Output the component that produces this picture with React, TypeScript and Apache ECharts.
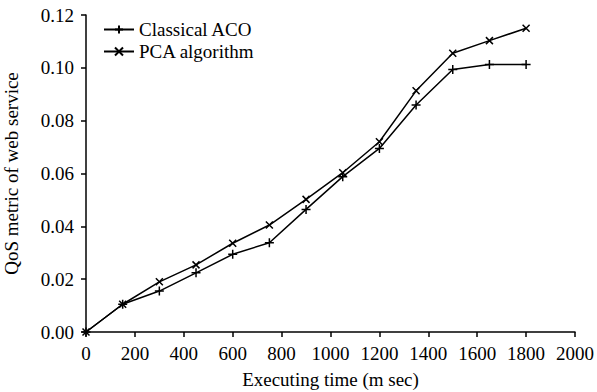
import React, { useEffect, useRef } from "react";
import * as echarts from "echarts";

const xValues = [0, 150, 300, 450, 600, 750, 900, 1050, 1200, 1350, 1500, 1650, 1800];
const classicalACO = [0, 0.0105, 0.0155, 0.0224, 0.0294, 0.0338, 0.0464, 0.0588, 0.0695, 0.0859, 0.0994, 0.1013, 0.1013];
const pcaAlgorithm = [0, 0.0105, 0.019, 0.0254, 0.0336, 0.0405, 0.0502, 0.0603, 0.072, 0.0913, 0.1055, 0.1103, 0.115];
const seriesNames = ["Classical ACO", "PCA algorithm"];

const FONT = "Liberation Serif";
const FS = 19;

export default function App() {
  const ref = useRef<HTMLDivElement>(null);
  useEffect(() => {
    if (!ref.current) return;
    const chart = echarts.init(ref.current, undefined, { renderer: "svg" });
    const plus = "path://M0,5 L10,5 M5,0 L5,10";
    const cross = "path://M0,0 L10,10 M10,0 L0,10";
    const mk = (name: string, data: number[], symbol: string, size: number) => ({
      name,
      type: "line",
      data: xValues.map((x, i) => [x, data[i]]),
      symbol,
      symbolSize: size,
      showAllSymbol: true,
      lineStyle: { color: "#000", width: 1.5 },
      itemStyle: { color: "#000", borderColor: "#000", borderWidth: 1.5 },
      emphasis: { disabled: true },
    });
    chart.setOption({
      animation: false,
      backgroundColor: "#fff",
      textStyle: { fontFamily: FONT, color: "#000" },
      grid: { left: 86, right: 22, top: 15, bottom: 60, containLabel: false, outerBoundsMode: "none" },
      legend: {
        orient: "vertical",
        left: 98,
        top: 15,
        itemWidth: 30,
        itemHeight: 10,
        itemGap: 3,
        data: seriesNames,
        textStyle: { fontFamily: FONT, fontSize: FS, color: "#000" },
      },
      xAxis: {
        type: "value",
        min: 0,
        max: 2000,
        interval: 200,
        name: "Executing time (m sec)",
        nameLocation: "middle",
        nameGap: 38,
        nameTextStyle: { fontFamily: FONT, fontSize: FS, color: "#000" },
        axisLine: { onZero: false, lineStyle: { color: "#000", width: 1.5 } },
        axisTick: { show: true, inside: false, length: 5, lineStyle: { color: "#000", width: 1.5 } },
        axisLabel: { fontFamily: FONT, fontSize: FS, color: "#000", margin: 12, formatter: (v: number) => String(v) },
        splitLine: { show: false },
      },
      yAxis: {
        type: "value",
        min: 0,
        max: 0.12,
        interval: 0.02,
        name: "QoS metric of web service",
        nameLocation: "middle",
        nameGap: 65,
        nameTextStyle: { fontFamily: FONT, fontSize: FS, color: "#000" },
        axisLine: { show: true, onZero: false, lineStyle: { color: "#000", width: 1.5 } },
        axisTick: { show: true, inside: false, length: 5, lineStyle: { color: "#000", width: 1.5 } },
        axisLabel: {
          fontFamily: FONT,
          fontSize: FS,
          color: "#000",
          margin: 12,
          formatter: (v: number) => v.toFixed(2),
        },
        splitLine: { show: false },
      },
      series: [
        mk(seriesNames[0], classicalACO, plus, 9),
        mk(seriesNames[1], pcaAlgorithm, cross, 7),
      ],
    });
    return () => chart.dispose();
  }, []);
  return (
    <div
      ref={ref}
      style={{ position: "fixed", left: 0, top: 0, width: 597, height: 392, background: "#fff" }}
    />
  );
}
